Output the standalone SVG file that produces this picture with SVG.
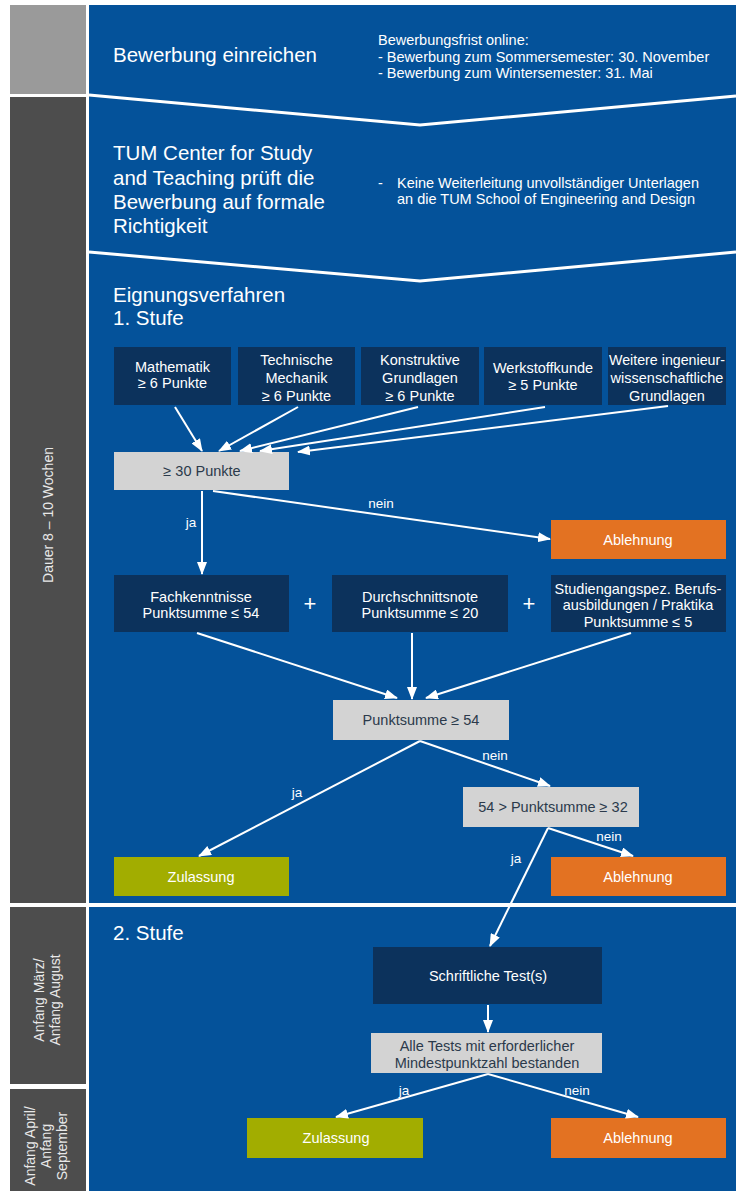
<svg xmlns="http://www.w3.org/2000/svg" width="736" height="1191" viewBox="0 0 736 1191">
<defs>
<style>
.t{font-family:"Liberation Sans",Arial,sans-serif;fill:#fff}
.h{font-size:20.5px}
.s{font-size:14.5px}
.c{text-anchor:middle}
.d{fill:#2b3a4b}
.lbl{font-family:"Liberation Sans",Arial,sans-serif;fill:#fff;font-size:13.5px;text-anchor:middle}
.side{font-family:"Liberation Sans",Arial,sans-serif;fill:#e8e8e8;font-size:14px;text-anchor:middle}
.navy{fill:#0c325c}
.grey{fill:#d3d3d3}
.orange{fill:#e37222}
.green{fill:#a2ad00}
.conn line{stroke:#fff;stroke-width:2;marker-end:url(#ah)}
</style>
<marker id="ah" viewBox="0 0 13 10" refX="12" refY="5" markerWidth="13" markerHeight="10" markerUnits="userSpaceOnUse" orient="auto">
<path d="M0,0 L13,5 L0,10 z" fill="#fff"/>
</marker>
</defs>
<rect width="736" height="1191" fill="#fff"/>
<g id="sidebar">
<rect x="10" y="5" width="76" height="89" fill="#9a9a9a"/>
<rect x="10" y="97" width="76" height="806" fill="#4d4d4d"/>
<rect x="10" y="907" width="76" height="177" fill="#4d4d4d"/>
<rect x="10" y="1089" width="76" height="102" fill="#4d4d4d"/>
<text class="side" transform="translate(53,515) rotate(-90)" font-size="14.5">Dauer 8 – 10 Wochen</text>
<text class="side" transform="translate(44,1000) rotate(-90)">Anfang März/</text>
<text class="side" transform="translate(60,1000) rotate(-90)">Anfang August</text>
<text class="side" transform="translate(35,1146) rotate(-90)">Anfang April/</text>
<text class="side" transform="translate(51,1146) rotate(-90)">Anfang</text>
<text class="side" transform="translate(67,1146) rotate(-90)">September</text>
</g>
<g id="panel">
<rect x="89" y="5" width="647" height="1186" fill="#04529a"/>
<polyline points="89,95 420,125 736,96" fill="none" stroke="#fff" stroke-width="3"/>
<polyline points="89,252 420,281 736,252" fill="none" stroke="#fff" stroke-width="3"/>
<line x1="89" y1="905" x2="736" y2="905" stroke="#fff" stroke-width="4"/>
</g>
<g id="step1">
<text class="t h" x="113" y="62">Bewerbung einreichen</text>
<text class="t s" x="378" y="45">Bewerbungsfrist online:</text>
<text class="t s" x="378" y="62">- Bewerbung zum Sommersemester: 30. November</text>
<text class="t s" x="378" y="78">- Bewerbung zum Wintersemester: 31. Mai</text>
</g>
<g id="step2">
<text class="t h" x="113" y="160">TUM Center for Study</text>
<text class="t h" x="113" y="185">and Teaching prüft die</text>
<text class="t h" x="113" y="209">Bewerbung auf formale</text>
<text class="t h" x="113" y="233">Richtigkeit</text>
<text class="t s" x="378" y="188">-</text>
<text class="t s" x="397" y="188">Keine Weiterleitung unvollständiger Unterlagen</text>
<text class="t s" x="397" y="204">an die TUM School of Engineering and Design</text>
</g>
<g id="step3-title">
<text class="t h" x="113" y="302">Eignungsverfahren</text>
<text class="t h" x="113" y="325">1. Stufe</text>
</g>
<g id="n-mathe">
<rect class="navy" x="114" y="347" width="117" height="58"/>
<text class="t s c" x="172.5" y="372">Mathematik</text>
<text class="t s c" x="172.5" y="388">≥ 6 Punkte</text>
</g>
<g id="n-tm">
<rect class="navy" x="238" y="347" width="117" height="58"/>
<text class="t s c" x="296.5" y="365">Technische</text>
<text class="t s c" x="296.5" y="383">Mechanik</text>
<text class="t s c" x="296.5" y="401">≥ 6 Punkte</text>
</g>
<g id="n-kg">
<rect class="navy" x="361" y="347" width="118" height="58"/>
<text class="t s c" x="420" y="365">Konstruktive</text>
<text class="t s c" x="420" y="383">Grundlagen</text>
<text class="t s c" x="420" y="401">≥ 6 Punkte</text>
</g>
<g id="n-wk">
<rect class="navy" x="484" y="347" width="118" height="58"/>
<text class="t s c" x="543" y="373">Werkstoffkunde</text>
<text class="t s c" x="543" y="390">≥ 5 Punkte</text>
</g>
<g id="n-weitere">
<rect class="navy" x="608" y="347" width="118" height="58"/>
<text class="t s c" x="667" y="365" textLength="116" lengthAdjust="spacingAndGlyphs">Weitere ingenieur-</text>
<text class="t s c" x="667" y="383">wissenschaftliche</text>
<text class="t s c" x="667" y="401">Grundlagen</text>
</g>
<g id="n-30">
<rect class="grey" x="114" y="452" width="175" height="38"/>
<text class="t s c d" x="202" y="476">≥ 30 Punkte</text>
</g>
<g id="n-abl1">
<rect class="orange" x="551" y="520" width="175" height="39"/>
<text class="t s c" x="638" y="545">Ablehnung</text>
</g>
<g id="n-fach">
<rect class="navy" x="114" y="575" width="175" height="57"/>
<text class="t s c" x="201" y="602">Fachkenntnisse</text>
<text class="t s c" x="201" y="618">Punktsumme ≤ 54</text>
</g>
<text class="t c" x="310" y="611" font-size="22">+</text>
<g id="n-durch">
<rect class="navy" x="332" y="575" width="176" height="57"/>
<text class="t s c" x="420" y="602">Durchschnittsnote</text>
<text class="t s c" x="420" y="618">Punktsumme ≤ 20</text>
</g>
<text class="t c" x="529" y="611" font-size="22">+</text>
<g id="n-studi">
<rect class="navy" x="551" y="575" width="175" height="57"/>
<text class="t s c" x="638" y="594">Studiengangspez. Berufs-</text>
<text class="t s c" x="638" y="610">ausbildungen / Praktika</text>
<text class="t s c" x="638" y="627">Punktsumme ≤ 5</text>
</g>
<g id="n-54">
<rect class="grey" x="333" y="700" width="176" height="40"/>
<text class="t s c d" x="421" y="725">Punktsumme ≥ 54</text>
</g>
<g id="n-32">
<rect class="grey" x="463" y="787" width="176" height="40"/>
<text class="t s c d" x="553" y="812">54 &gt; Punktsumme ≥ 32</text>
</g>
<g id="n-zul1">
<rect class="green" x="114" y="857" width="175" height="39"/>
<text class="t s c" x="201" y="882">Zulassung</text>
</g>
<g id="n-abl2">
<rect class="orange" x="551" y="857" width="175" height="39"/>
<text class="t s c" x="638" y="882">Ablehnung</text>
</g>
<g id="step4-title">
<text class="t h" x="113" y="940">2. Stufe</text>
</g>
<g id="n-test">
<rect class="navy" x="373" y="947" width="229" height="57"/>
<text class="t s c" x="488" y="981">Schriftliche Test(s)</text>
</g>
<g id="n-alle">
<rect class="grey" x="371" y="1033" width="231" height="40"/>
<text class="t s c d" x="487" y="1051">Alle Tests mit erforderlicher</text>
<text class="t s c d" x="487" y="1068">Mindestpunktzahl bestanden</text>
</g>
<g id="n-zul2">
<rect class="green" x="247" y="1118" width="176" height="40"/>
<text class="t s c" x="336" y="1143">Zulassung</text>
</g>
<g id="n-abl3">
<rect class="orange" x="551" y="1118" width="175" height="40"/>
<text class="t s c" x="638" y="1143">Ablehnung</text>
</g>
<g id="connectors" class="conn">
<line x1="175" y1="407" x2="202" y2="451"/>
<line x1="298" y1="407" x2="219" y2="451"/>
<line x1="418" y1="407" x2="240" y2="451"/>
<line x1="545" y1="407" x2="260" y2="451"/>
<line x1="668" y1="406" x2="298" y2="452"/>
<line x1="202" y1="491" x2="202" y2="574"/>
<line x1="213" y1="491" x2="550" y2="539"/>
<line x1="197" y1="633" x2="397" y2="698"/>
<line x1="412" y1="633" x2="412" y2="699"/>
<line x1="631" y1="633" x2="426" y2="698"/>
<line x1="420" y1="741" x2="199" y2="856"/>
<line x1="420" y1="741" x2="550" y2="786"/>
<line x1="548" y1="828" x2="633" y2="856"/>
<line x1="548" y1="828" x2="490" y2="946"/>
<line x1="488" y1="1005" x2="488" y2="1032"/>
<line x1="488" y1="1074" x2="336" y2="1117"/>
<line x1="488" y1="1074" x2="638" y2="1117"/>
</g>
<g id="labels">
<text class="lbl" x="191" y="527">ja</text>
<text class="lbl" x="381" y="508">nein</text>
<text class="lbl" x="297" y="797">ja</text>
<text class="lbl" x="495" y="760">nein</text>
<text class="lbl" x="609" y="841">nein</text>
<text class="lbl" x="516" y="863">ja</text>
<text class="lbl" x="404" y="1095">ja</text>
<text class="lbl" x="577" y="1095">nein</text>
</g>
</svg>
